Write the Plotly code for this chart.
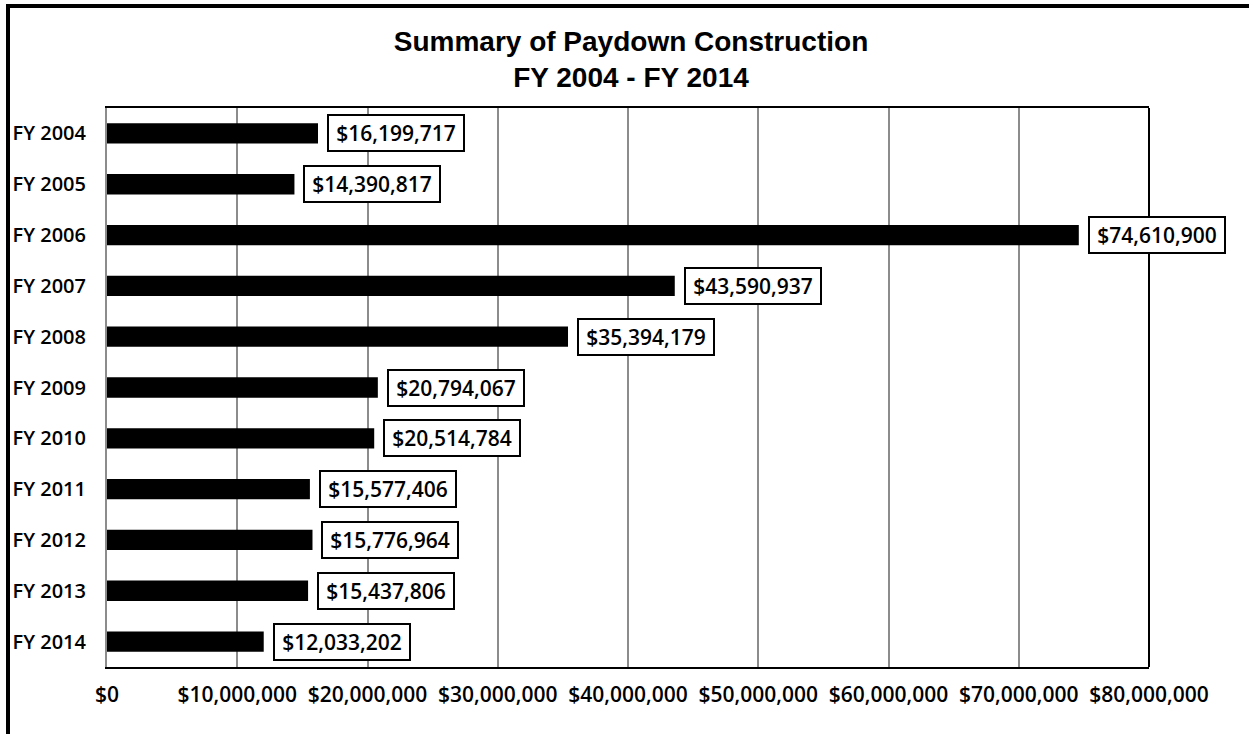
# horizontal bar chart: paydown construction by fiscal year

import plotly.graph_objects as go

# data
years = ["FY 2004", "FY 2005", "FY 2006", "FY 2007", "FY 2008", "FY 2009",
         "FY 2010", "FY 2011", "FY 2012", "FY 2013", "FY 2014"]
amounts = [16199717, 14390817, 74610900, 43590937, 35394179, 20794067,
           20514784, 15577406, 15776964, 15437806, 12033202]
x_ticks = [0, 10000000, 20000000, 30000000, 40000000, 50000000,
           60000000, 70000000, 80000000]

# page / plot geometry (pixels)
W, H = 1249, 734
L, R, T, B = 107, 100, 108, 67
FONT = "Open Sans"
TITLE_FONT = "Liberation Sans"


def px_x(p):
    return (p - L) / (W - L - R)


def px_y(p):
    return (H - B - p) / (H - T - B)


fig = go.Figure()

fig.add_trace(
    go.Bar(
        x=amounts,
        y=years,
        orientation="h",
        width=0.4,
        marker=dict(color="black", line=dict(width=0)),
        hoverinfo="x+y",
    )
)

# boxed value labels next to each bar
for yr, val in zip(years, amounts):
    fig.add_annotation(
        x=val,
        y=yr,
        xref="x",
        yref="y",
        text="${:,}".format(val),
        showarrow=False,
        xanchor="left",
        yanchor="middle",
        xshift=9,
        width=128,
        align="center",
        font=dict(family=FONT, size=21, color="black", weight=600),
        bgcolor="white",
        bordercolor="black",
        borderwidth=2,
        borderpad=3,
    )

# outer frame (left and top edges only, as in the reference)
fig.add_shape(type="line", xref="paper", yref="paper",
              x0=px_x(8), x1=px_x(8), y0=px_y(4), y1=px_y(H + 5),
              line=dict(color="black", width=4))
fig.add_shape(type="line", xref="paper", yref="paper",
              x0=px_x(6), x1=px_x(W + 5), y0=px_y(6), y1=px_y(6),
              line=dict(color="black", width=4))
# right edge of the plot area
fig.add_shape(type="line", xref="paper", yref="paper",
              x0=1, x1=1, y0=0, y1=1,
              line=dict(color="black", width=2))

fig.update_layout(
    width=W,
    height=H,
    margin=dict(l=L, r=R, t=T, b=B),
    paper_bgcolor="white",
    plot_bgcolor="white",
    showlegend=False,
    title=dict(
        text="Summary of Paydown Construction<br>FY 2004 - FY 2014",
        x=631 / W,
        xanchor="center",
        y=1 - 51 / H,
        yanchor="middle",
        font=dict(family=TITLE_FONT, size=28, color="black", weight="bold"),
    ),
    font=dict(family=FONT, color="black"),
)

fig.update_xaxes(
    range=[0, 80000000],
    tickvals=x_ticks,
    tickformat="$,.0f",
    tickfont=dict(family=FONT, size=21, color="black", weight=600),
    showgrid=True,
    gridcolor="#8c8c8c",
    gridwidth=1.5,
    zeroline=False,
    showline=True,
    linecolor="black",
    linewidth=2,
    mirror=True,
    ticks="",
    ticklabelstandoff=8,
)

fig.update_yaxes(
    autorange="reversed",
    tickfont=dict(family=FONT, size=20, color="black", weight=600),
    showgrid=False,
    showline=True,
    linecolor="#8c8c8c",
    linewidth=2,
    ticks="",
    ticklabelstandoff=15,
)

# the page has a default body margin; drop it so the figure fills the window
fig.write_html(
    "out.html",
    config={"displayModeBar": False},
    post_script="document.body.style.margin='0';",
)
